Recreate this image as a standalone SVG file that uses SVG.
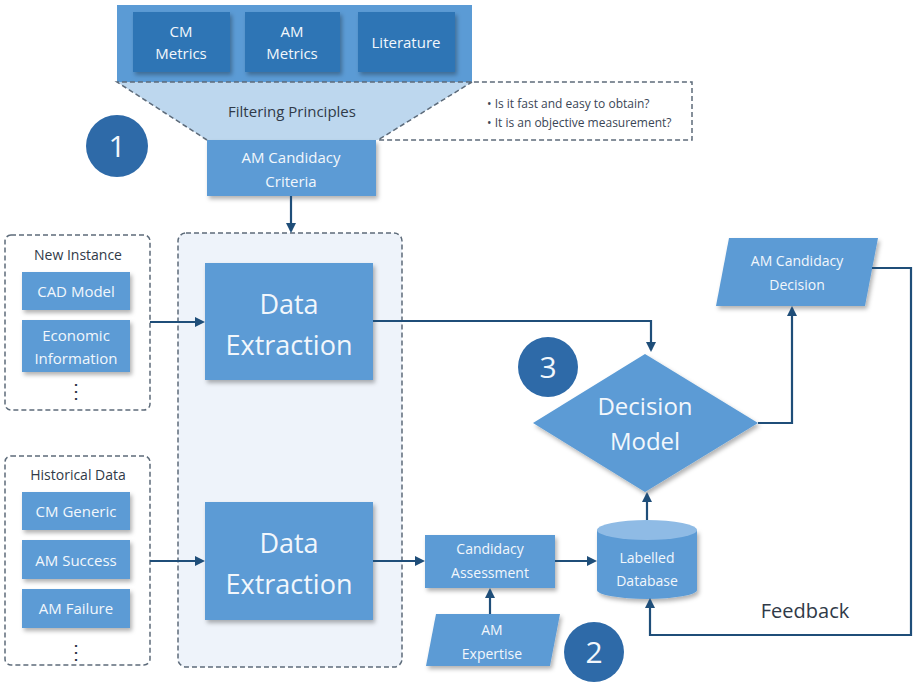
<svg xmlns="http://www.w3.org/2000/svg" width="914" height="683" viewBox="0 0 914 683">
<style>
.box{fill:#5b9bd5;filter:url(#sh)}
.dbox{fill:#2f75b5;filter:url(#sh)}
.wt{fill:#f2f7fc;font-family:"Open Sans","Liberation Sans",sans-serif;text-anchor:middle}
.dk{fill:#303a48;font-family:"Open Sans","Liberation Sans",sans-serif;text-anchor:middle}
.dash{fill:none;stroke:#5d6b7a;stroke-width:1.5;stroke-dasharray:5 3}
.con{fill:none;stroke:#1f4e79;stroke-width:2.2}
.circ{fill:#2e6aa8}
</style>
<defs>
<filter id="sh" x="-10%" y="-10%" width="130%" height="130%">
<feDropShadow dx="2" dy="3" stdDeviation="2" flood-color="#000" flood-opacity="0.3"/>
</filter>
<marker id="ah" markerWidth="10" markerHeight="10" refX="8" refY="5" orient="auto" markerUnits="userSpaceOnUse" viewBox="0 0 10 10">
<path d="M0,0 L10,5 L0,10 z" fill="#1f4e79"/>
</marker>
</defs>

<g id="sources">
<rect x="117" y="5" width="355" height="77" fill="#5b9bd5"/>
<g id="cm-metrics"><rect class="dbox" x="133" y="12" width="97" height="60"/><text class="wt" font-size="15" x="181" y="37">CM</text><text class="wt" font-size="15" x="181" y="59">Metrics</text></g>
<g id="am-metrics"><rect class="dbox" x="245" y="12" width="95" height="60"/><text class="wt" font-size="15" x="292" y="37">AM</text><text class="wt" font-size="15" x="292" y="59">Metrics</text></g>
<g id="literature"><rect class="dbox" x="358" y="12" width="97" height="60"/><text class="wt" font-size="15" x="406" y="48">Literature</text></g>
</g>

<g id="filtering">
<path d="M117,82 L472,82 L378,140 L207,140 Z" fill="#bdd7ee"/>
<path class="dash" d="M207,140 L117,82 L692,82 L692,140 L378,140 L472,82"/>
<text class="dk" font-size="15" x="292" y="117" fill="#3a4656">Filtering Principles</text>
<text font-family="'Open Sans','Liberation Sans',sans-serif" font-size="12" fill="#3a4656" x="487" y="108">•  Is it fast and easy to obtain?</text>
<text font-family="'Open Sans','Liberation Sans',sans-serif" font-size="12" fill="#3a4656" x="487" y="127">•  It is an objective measurement?</text>
</g>

<g id="n1"><circle class="circ" cx="117" cy="146" r="31"/><text class="wt" font-size="30" x="117" y="157">1</text></g>

<g id="criteria"><rect class="box" x="207" y="140" width="169" height="56"/><text class="wt" font-size="15" x="291" y="163">AM Candidacy</text><text class="wt" font-size="15" x="291" y="187">Criteria</text></g>

<g id="extraction-area"><rect x="178" y="233" width="224" height="434" rx="8" fill="#eef3fa" stroke="#5d6b7a" stroke-width="1.5" stroke-dasharray="5 3"/></g>

<g id="new-instance">
<rect class="dash" x="5" y="235" width="145" height="175" rx="6"/>
<text class="dk" font-size="14" x="78" y="260">New Instance</text>
<rect class="box" x="22" y="272" width="108" height="38"/><text class="wt" font-size="15" x="76" y="297">CAD Model</text>
<rect class="box" x="22" y="320" width="108" height="52"/><text class="wt" font-size="15" x="76" y="341">Economic</text><text class="wt" font-size="15" x="76" y="364">Information</text>
<text class="dk" font-size="20" x="76" y="398">⋮</text>
</g>

<g id="historical">
<rect class="dash" x="5" y="456" width="145" height="209" rx="6"/>
<text class="dk" font-size="14" x="78" y="480">Historical Data</text>
<rect class="box" x="22" y="492" width="108" height="38"/><text class="wt" font-size="15" x="76" y="517">CM Generic</text>
<rect class="box" x="22" y="540" width="108" height="39"/><text class="wt" font-size="15" x="76" y="566">AM Success</text>
<rect class="box" x="22" y="589" width="108" height="39"/><text class="wt" font-size="15" x="76" y="614">AM Failure</text>
<text class="dk" font-size="20" x="76" y="659">⋮</text>
</g>

<g id="de-top"><rect class="box" x="205" y="263" width="168" height="117"/><text class="wt" font-size="27" x="289" y="314">Data</text><text class="wt" font-size="27" x="289" y="355">Extraction</text></g>
<g id="de-bottom"><rect class="box" x="205" y="502" width="168" height="118"/><text class="wt" font-size="27" x="289" y="553">Data</text><text class="wt" font-size="27" x="289" y="594">Extraction</text></g>

<g id="decision-model"><path d="M645,354 L758,423 L645,492 L533,423 Z" fill="#5b9bd5" filter="url(#sh)"/><text class="wt" font-size="24" x="645" y="415">Decision</text><text class="wt" font-size="24" x="645" y="450">Model</text></g>

<g id="n3"><circle class="circ" cx="548" cy="367" r="30"/><text class="wt" font-size="30" x="548" y="378">3</text></g>

<g id="decision-out"><path d="M729,238 L878,238 L865,306 L716,306 Z" fill="#5b9bd5" filter="url(#sh)"/><text class="wt" font-size="14" x="797" y="266">AM Candidacy</text><text class="wt" font-size="14" x="797" y="290">Decision</text></g>

<g id="assessment"><rect class="box" x="425" y="535" width="130" height="53"/><text class="wt" font-size="14" x="490" y="554">Candidacy</text><text class="wt" font-size="14" x="490" y="578">Assessment</text></g>

<g id="expertise"><path d="M436,614 L560,614 L550,666 L426,666 Z" fill="#5b9bd5" filter="url(#sh)"/><text class="wt" font-size="14" x="492" y="635">AM</text><text class="wt" font-size="14" x="492" y="659">Expertise</text></g>

<g id="n2"><circle class="circ" cx="594" cy="652" r="30"/><text class="wt" font-size="30" x="594" y="663">2</text></g>

<g id="database">
<path d="M597,530 L597,590 A50,9 0 0 0 697,590 L697,530 Z" fill="#5b9bd5" filter="url(#sh)"/>
<ellipse cx="647" cy="530" rx="50" ry="10" fill="#8fbbe5"/>
<text class="wt" font-size="14" x="647" y="563">Labelled</text><text class="wt" font-size="14" x="647" y="586">Database</text>
</g>

<text id="feedback-label" class="dk" font-size="20" x="805" y="618" fill="#2d3d52">Feedback</text>

<g id="connectors">
<path class="con" d="M291,196 L291,231" marker-end="url(#ah)"/>
<path class="con" d="M150,322 L203,322" marker-end="url(#ah)"/>
<path class="con" d="M150,561 L203,561" marker-end="url(#ah)"/>
<path class="con" d="M373,321 L651,321 L651,350" marker-end="url(#ah)"/>
<path class="con" d="M758,423 L792,423 L792,308" marker-end="url(#ah)"/>
<path class="con" d="M373,561 L423,561" marker-end="url(#ah)"/>
<path class="con" d="M555,561 L595,561" marker-end="url(#ah)"/>
<path class="con" d="M490,614 L490,590" marker-end="url(#ah)"/>
<path class="con" d="M647,520 L647,494" marker-end="url(#ah)"/>
<path class="con" d="M872,268 L911,268 L911,635 L650,635 L650,600" marker-end="url(#ah)"/>
</g>
</svg>
